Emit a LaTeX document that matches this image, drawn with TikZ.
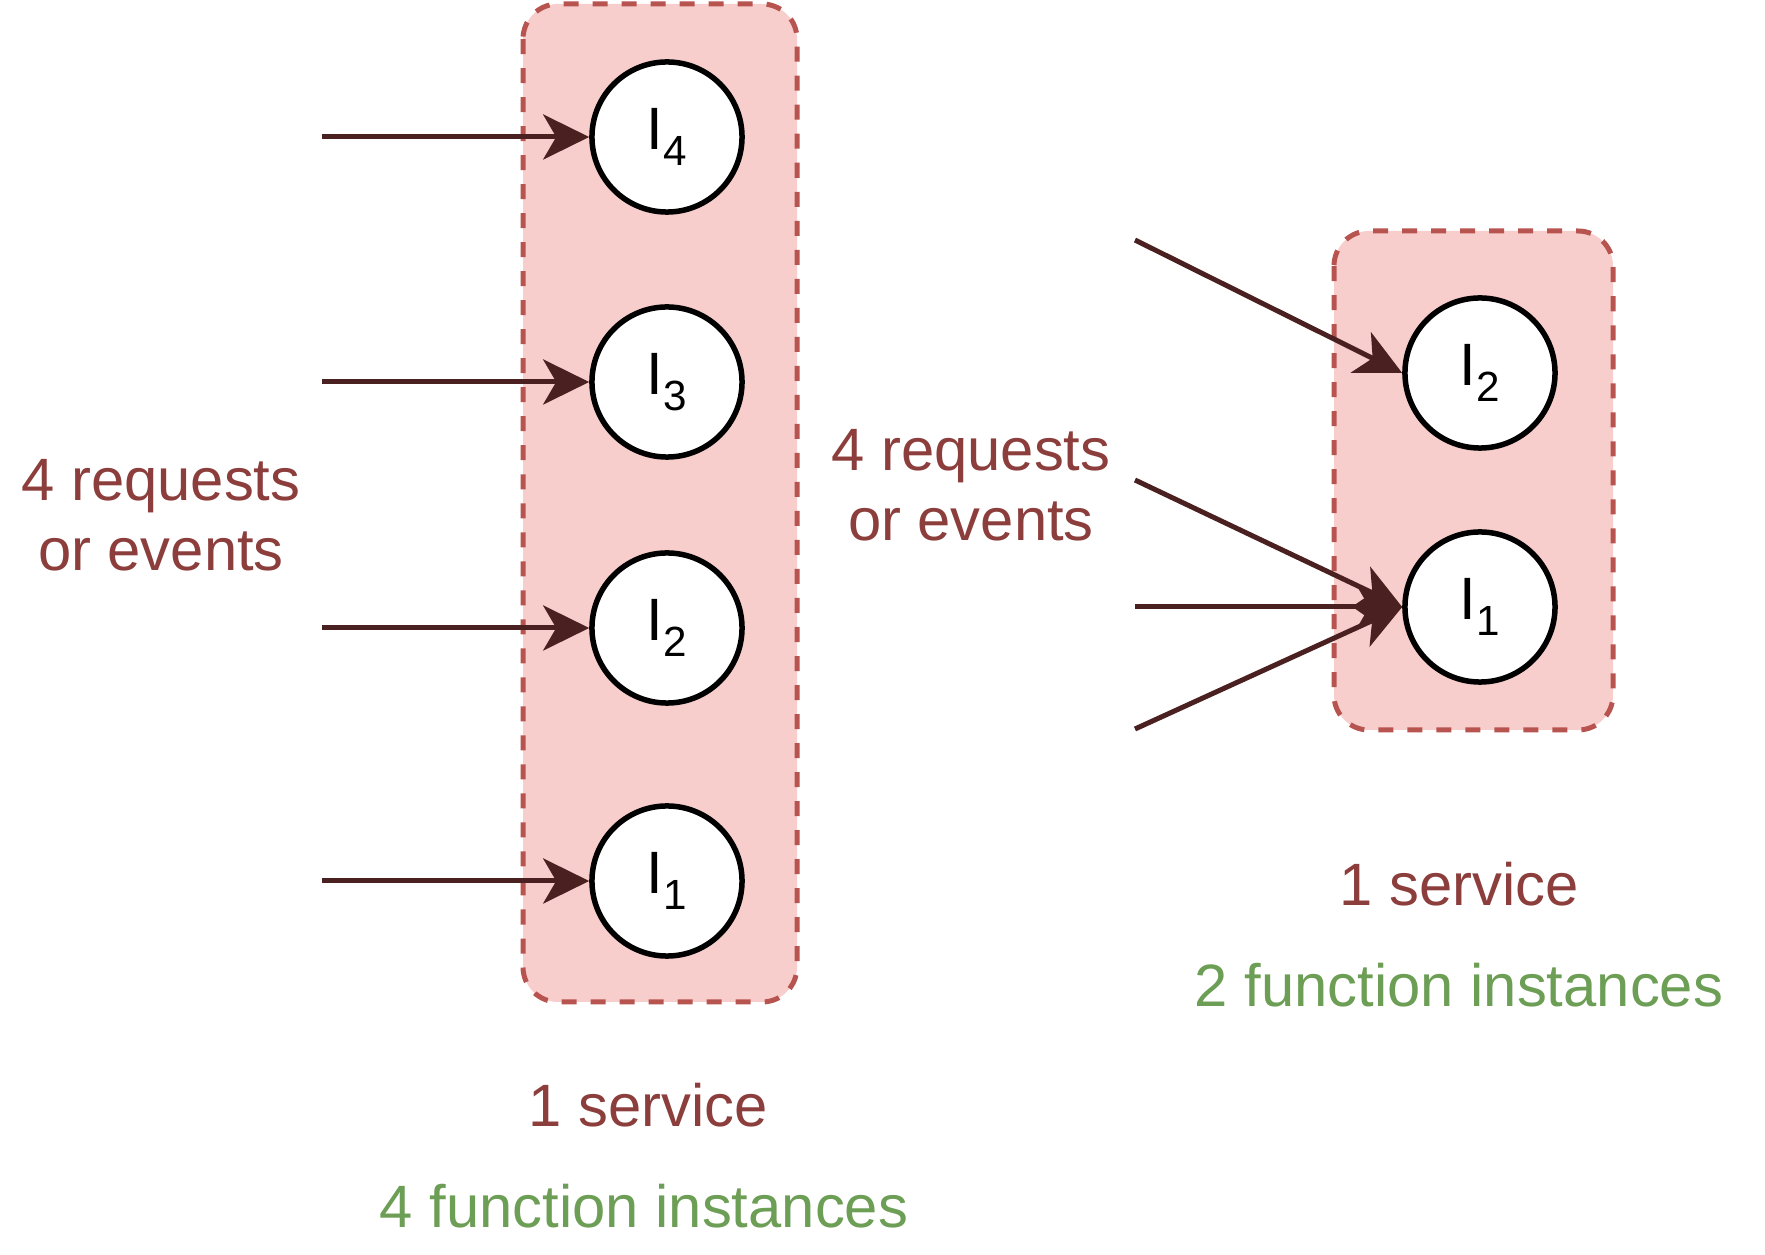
\documentclass[tikz,border=0pt]{standalone}
\usepackage{fontspec}
\setmainfont{Liberation Sans}
\usetikzlibrary{arrows.meta}
\definecolor{boxfill}{RGB}{248,206,204}
\definecolor{boxdraw}{RGB}{184,84,80}
\definecolor{arrowc}{RGB}{74,32,32}
\definecolor{redtext}{RGB}{140,62,60}
\definecolor{greentext}{RGB}{109,158,85}
\newcommand{\instlabel}[1]{I\raisebox{-0.5ex}{\fontsize{12}{12}\selectfont #1}}
\tikzset{
  svcbox/.style={draw=boxdraw, fill=boxfill, line width=0.05cm, dash pattern=on 0.15cm off 0.14cm, rounded corners=0.35cm},
  inst/.style={circle, draw=black, fill=white, line width=0.055cm, minimum size=1.5cm, inner sep=0pt, font=\fontsize{17}{20}\selectfont},
  req/.style={draw=arrowc, line width=0.05cm, -{Stealth[length=0.46cm, width=0.45cm, inset=0.13cm]}},
  lbl/.style={align=center, font=\fontsize{17}{19.8}\selectfont},
}
\begin{document}
\begin{tikzpicture}[x=0.01cm, y=-0.01cm]
\useasboundingbox (0,0) rectangle (1765,1255);
% left service box
\draw[svcbox] (523,4) rectangle (797,1002);
\node[inst] (l4) at (667,137) {\instlabel{4}};
\node[inst] (l3) at (667,382) {\instlabel{3}};
\node[inst] (l2) at (667,628) {\instlabel{2}};
\node[inst] (l1) at (667,881) {\instlabel{1}};
\coordinate (s4) at (322,137);
\coordinate (s3) at (322,382);
\coordinate (s2) at (322,628);
\coordinate (s1) at (322,881);
\draw[req] (s4) -- (l4.west);
\draw[req] (s3) -- (l3.west);
\draw[req] (s2) -- (l2.west);
\draw[req] (s1) -- (l1.west);
% right service box
\draw[svcbox] (1334,231) rectangle (1613,730);
\node[inst] (r2) at (1480,373) {\instlabel{2}};
\node[inst] (r1) at (1480,607) {\instlabel{1}};
\coordinate (t1) at (1135,240);
\coordinate (t2) at (1135,480);
\coordinate (t3) at (1135,607);
\coordinate (t4) at (1135,729);
\draw[req] (t1) -- (r2.west);
\draw[req] (t2) -- (r1.west);
\draw[req] (t3) -- (r1.west);
\draw[req] (t4) -- (r1.west);
% labels
\node[lbl, text=redtext] (lreq) at (161,515) {4 requests\\or events};
\node[lbl, text=redtext] (mreq) at (971,485) {4 requests\\or events};
\node[lbl, text=redtext] (lsvc) at (648,1105) {1 service};
\node[lbl, text=greentext] (lfn) at (644,1206) {4 function instances};
\node[lbl, text=redtext] (rsvc) at (1459,884) {1 service};
\node[lbl, text=greentext] (rfn) at (1459,985) {2 function instances};
\end{tikzpicture}
\end{document}
